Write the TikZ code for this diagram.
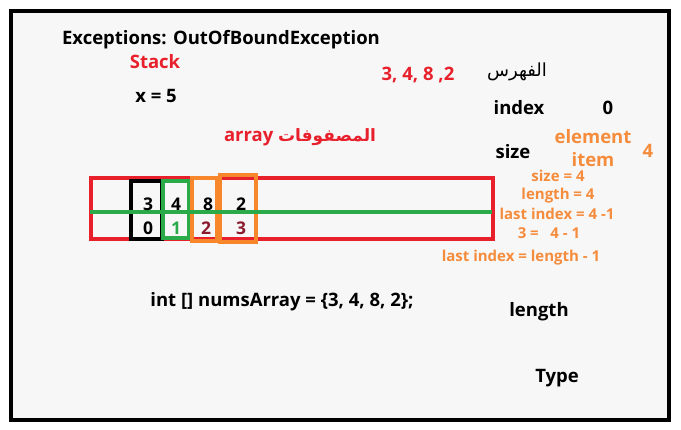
\documentclass[tikz,border=0pt]{standalone}
\usepackage{fontspec}
\setmainfont{Open Sans}
\newfontfamily\arabicfont[Script=Arabic]{DejaVu Sans}
\TeXXeTstate=1
\definecolor{bgc}{HTML}{F7F7F7}
\definecolor{redc}{HTML}{E8202C}
\definecolor{grn}{HTML}{2BAA4A}
\definecolor{org}{HTML}{F7872A}
\definecolor{orgt}{HTML}{F58C3C}
\definecolor{dred}{HTML}{8B1A2E}
\tikzset{
  txt/.style={inner sep=0pt, font=\fontsize{18.5}{20}\selectfont\bfseries},
  stxt/.style={inner sep=0pt, text=orgt, font=\fontsize{15}{17}\selectfont\bfseries},
  num/.style={inner sep=0pt, font=\fontsize{17.5}{19}\selectfont\bfseries},
  bx/.style={line width=3.5pt}
}
\begin{document}
\begin{tikzpicture}[x=1pt,y=-1pt]
\useasboundingbox (0,0) rectangle (681,429);
\fill[white] (0,0) rectangle (681,429);
\draw[line width=4pt, fill=bgc] (11,11) rectangle (669,420);

% texts
\node[txt] (exc) at (221,40) {Exceptions: OutOfBoundException};
\node[txt, text=redc] (stack) at (155,62) {Stack};
\node[txt] (x5) at (156,96) {x = 5};
\node[txt, text=redc] (vals) at (418,75) {3, 4, 8 ,2};
\node[inner sep=0pt, font=\fontsize{18}{20}\selectfont\arabicfont] (fihris) at (517,72) {\beginR الفهرس\endR};
\node[txt] (index) at (519,108) {index};
\node[txt] (zero) at (608,108) {0};
\node[txt, text=redc] (arr) at (300,137) {array {\arabicfont\fontsize{17}{19}\selectfont\beginR المصفوفات\endR}};
\node[txt] (size) at (513,152) {size};
\node[txt, text=orgt] (elem) at (593,137) {element};
\node[txt, text=orgt] (item) at (593,160) {item};
\node[txt, text=orgt] (four) at (648,151) {4};
\node[stxt] (s4) at (558,176) {size = 4};
\node[stxt] (l4) at (558,196) {length = 4};
\node[stxt] (li) at (557,214) {last index = 4 -1};
\node[stxt] (t3) at (549,233) {3 = \ \ 4 - 1};
\node[stxt] (lil) at (521,258) {last index = length - 1};
\node[txt] (decl) at (282,302) {int [] numsArray = \{3, 4, 8, 2\};};
\node[txt] (len) at (539,312) {length};
\node[txt] (type) at (557,378) {Type};

% array boxes
\draw[bx, redc] (91,178) rectangle (493,239);
\draw[bx, black] (131,181) rectangle (162,239);
\draw[bx, grn] (163,181) rectangle (189,238);
\draw[bx, org] (192,178) rectangle (217,241);
\draw[bx, org] (220,175) rectangle (256,242);
\coordinate (gl) at (90,212);
\coordinate (gr) at (492,212);
\draw[line width=3.5pt, grn] (gl) -- (gr);

\node[num] (v3) at (148,204) {3};
\node[num] (v4) at (176,204) {4};
\node[num] (v8) at (208,204) {8};
\node[num] (v2) at (241,204) {2};
\node[num] (i0) at (148,228) {0};
\node[num, text=grn] (i1) at (176,228) {1};
\node[num, text=dred] (i2) at (206,228) {2};
\node[num, text=dred] (i3) at (241,228) {3};
\end{tikzpicture}
\end{document}
